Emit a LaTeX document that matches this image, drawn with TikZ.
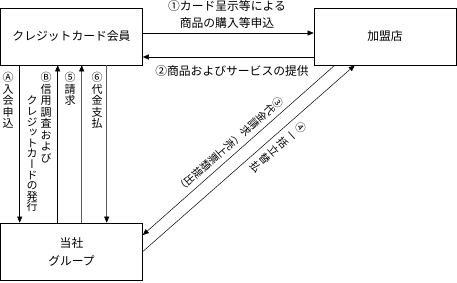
\documentclass[tikz,border=0pt]{standalone}
\usepackage{fontspec}
\setmainfont{Noto Sans CJK JP}
\newfontfamily\vjp[RawFeature=+vert]{Noto Sans CJK JP}
\usetikzlibrary{arrows.meta,calc}
\begin{document}
\begin{tikzpicture}[x=1pt,y=1pt,
 box/.style={draw,line width=0.6pt,inner sep=0,minimum width=142pt,minimum height=57pt,align=center,font=\fontsize{11.8}{18}\selectfont},
 arr/.style={line width=0.5pt,-{Triangle[length=6pt,width=5pt]}},
 garr/.style={arr,draw=black!65,-{Triangle[length=6pt,width=5pt,fill=black,color=black]}},
 lab/.style={inner sep=0,font=\fontsize{11.8}{17}\selectfont,align=center},
 vlab/.style={inner sep=0,anchor=north,align=center,font=\vjp\fontsize{11}{11.5}\selectfont},
]
\useasboundingbox (0,0) rectangle (457,282);
\node[box] (member) at (71.5,245.5) {クレジットカード会員};
\node[box] (shop) at (385,245.5) {加盟店};
\node[box] (group) at (71.5,30.5) {当社\\グループ};
% top arrows
\draw[arr] ([yshift=3.5pt]member.east) -- ([yshift=3.5pt]shop.west);
\draw[arr] ([yshift=-20.5pt]shop.west) -- ([yshift=-20.5pt]member.east);
\node[lab] (l1) at (227,267.5) {①カード呈示等による\\商品の購入等申込};
\node[lab] (l2) at (232,211) {②商品およびサービスの提供};
% vertical arrows
\draw[arr] ([xshift=19.5pt]member.south west) -- ([xshift=19.5pt]group.north west);
\draw[arr] ([xshift=57.5pt]group.north west) -- ([xshift=57.5pt]member.south west);
\draw[garr] ([xshift=81.5pt]group.north west) -- ([xshift=81.5pt]member.south west);
\draw[garr] ([xshift=106.5pt]member.south west) -- ([xshift=106.5pt]group.north west);
\node[vlab] (la) at (8,210) {Ⓐ\\入\\会\\申\\込};
\node[vlab] (lb) at (46,210) {Ⓑ\\信\\用\\調\\査\\お\\よ\\び};
\node[vlab,font=\vjp\fontsize{11}{10.6}\selectfont] (lb2) at (32,186) {ク\\レ\\ジ\\ッ\\ト\\カ\\ー\\ド\\の\\発\\行};
\node[vlab] (l5) at (70,210) {⑤\\請\\求};
\node[vlab] (l6) at (97,210) {⑥\\代\\金\\支\\払};
% diagonal arrows
\draw[arr] ([xshift=21pt]shop.south west) -- ([yshift=16.5pt]group.east);
\draw[arr] (group.east) -- ([xshift=41pt]shop.south west);
\node[vlab,rotate=-48.6,font=\vjp\fontsize{10.5}{10.6}\selectfont] (l3) at (281.5,183) {③\\代\\金\\請\\求\\（\\売\\上\\票\\類\\提\\出\\）};
\node[vlab,rotate=-48.6,font=\vjp\fontsize{10.5}{12}\selectfont] (l4) at (304.5,158) {④\\一\\括\\立\\替\\払};
\end{tikzpicture}
\end{document}
